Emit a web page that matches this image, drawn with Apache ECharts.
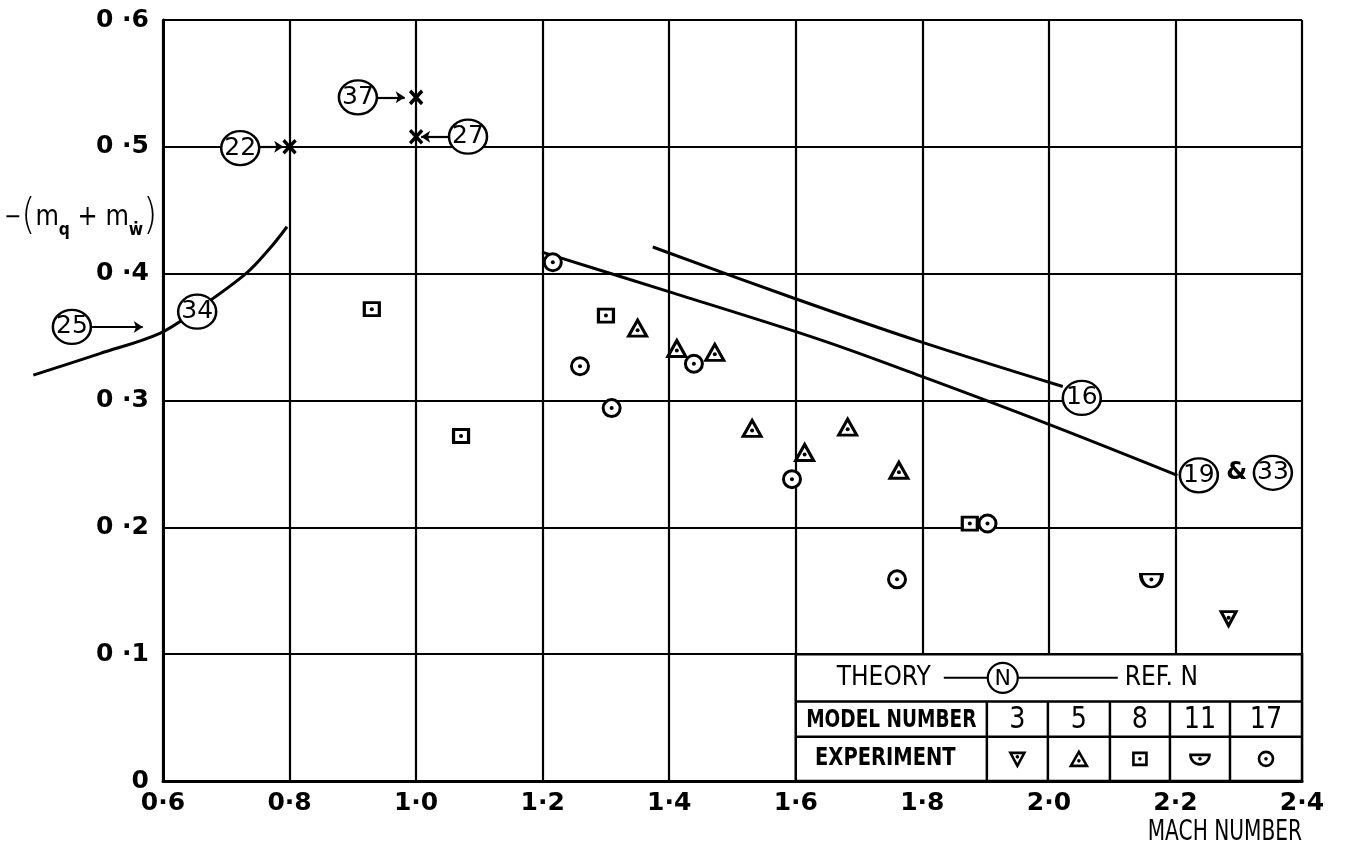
<!DOCTYPE html>
<html><head><meta charset="utf-8">
<script src="https://cdn.jsdelivr.net/npm/echarts@6/dist/echarts.min.js"></script>
<style>html,body{margin:0;padding:0;background:#fff}#c{width:1348px;height:856px}</style>
</head><body><div id="c"></div>
<script>
// ---- tick labels ----
const xTickLabels = ['0·6','0·8','1·0','1·2','1·4','1·6','1·8','2·0','2·2','2·4'];
const yTickLabels = ['0','0 ·1','0 ·2','0 ·3','0 ·4','0 ·5','0 ·6'];

// ---- theory curves (Mach, -(mq+mw')) ----
const theory25_34 = [[0.395,0.320],[0.500,0.337],[0.595,0.353],[0.652,0.371],[0.731,0.400],[0.769,0.420],[0.796,0.437]];
const theory19_33 = [[1.199,0.417],[1.398,0.386],[1.638,0.348],[1.799,0.319],[2.001,0.281],[2.203,0.241]];
const theory16    = [[1.374,0.421],[1.595,0.381],[1.799,0.346],[2.022,0.311]];
// theory points (crosses) refs 22, 37, 27
const theoryPoints = [[0.80,0.500],[1.00,0.539],[1.00,0.508]];

// ---- experiments ----
const model3  = [[2.284,0.128]];
const model5  = [[1.350,0.357],[1.412,0.341],[1.472,0.338],[1.531,0.278],[1.614,0.259],[1.682,0.279],[1.763,0.245]];
const model8  = [[0.930,0.372],[1.071,0.272],[1.300,0.367],[1.875,0.203]];
const model11 = [[2.162,0.158]];
const model17 = [[1.216,0.409],[1.259,0.327],[1.309,0.294],[1.439,0.329],[1.594,0.238],[1.760,0.159],[1.903,0.203]];

// ---- reference labels (circled numbers) ----
const refNames = ['22','37','27','25','34','16','19','33'];
const refPos   = [[0.722,0.499],[0.908,0.539],[1.082,0.508],[0.456,0.358],[0.654,0.370],[2.052,0.302],[2.237,0.241],[2.354,0.243]];
const ampPos   = [[2.297,0.243]];
// arrows from labels to theory points
const arrows = [
  [[0.750,0.500],[0.790,0.500]],
  [[0.936,0.539],[0.982,0.539]],
  [[1.053,0.508],[1.008,0.508]],
  [[0.488,0.358],[0.568,0.358]]
];
const modelNumbers = ['3','5','8','11','17'];

const FONT = 'DejaVu Sans';
const SYM3  = 'path://M0,0 L20,0 L10,18 Z';
const SYM5  = 'path://M10,0 L20,18 L0,18 Z';
const SYM8  = 'path://M0,0 L20,0 L20,18 L0,18 Z';
const SYM11 = 'path://M0,0 L20,0 C20,14 0,14 0,0 Z';

const GL = 163, GR = 46, GT = 20, GB = 75, CW = 1348;
const X_MIN = 0.6, X_MAX = 2.4;
// same scale extended to the left edge of the canvas (for the curve that leaves the frame)
const X_MIN_EXT = X_MIN - GL * (X_MAX - X_MIN) / (CW - GL - GR);

const chart = echarts.init(document.getElementById('c'), null, {renderer:'canvas'});

function outline(data, symbol, size){
  return {type:'scatter', data, symbol, symbolSize:size, clip:false, z:5,
    itemStyle:{color:'#fff', borderColor:'#000', borderWidth:3, opacity:1},
    emphasis:{disabled:true}, silent:true};
}
function dots(data, off){
  return {type:'scatter', data, symbol:'circle', symbolSize:4, clip:false, z:6,
    symbolOffset:[0, off||0], itemStyle:{color:'#000', opacity:1}, silent:true};
}
function theory(data, ext){
  const s = {type:'line', data, smooth:0.35, showSymbol:false, symbol:'none', clip:false, z:3,
    lineStyle:{color:'#000', width:3}, silent:true};
  if(ext){ s.xAxisIndex = 1; s.yAxisIndex = 1; }
  return s;
}
const axisCommon = {
  axisLine:{show:true, onZero:false, lineStyle:{color:'#000', width:3}},
  axisTick:{show:false},
  splitLine:{show:true, lineStyle:{color:'#000', width:2.2}}
};

const option = {
  backgroundColor:'#fff',
  animation:false,
  grid:[{left:GL, right:GR, top:GT, bottom:GB},{left:0, right:GR, top:GT, bottom:GB}],
  xAxis:[Object.assign({type:'value', min:X_MIN, max:X_MAX, interval:0.2, gridIndex:0,
    axisLabel:{color:'#000', fontFamily:FONT, fontSize:25, fontWeight:'bold', margin:10,
      formatter:(v)=>xTickLabels[Math.round((v-0.6)/0.2)]}}, axisCommon),
    {type:'value', gridIndex:1, min:X_MIN_EXT, max:X_MAX, show:false}],
  yAxis:[Object.assign({type:'value', min:0, max:0.6, interval:0.1, gridIndex:0,
    axisLabel:{color:'#000', fontFamily:FONT, fontSize:25, fontWeight:'bold', margin:14,
      formatter:(v)=>yTickLabels[Math.round(v/0.1)]}}, axisCommon),
    {type:'value', gridIndex:1, min:0, max:0.6, show:false}],
  series:[
    theory(theory25_34, true), theory(theory19_33), theory(theory16),
    {type:'lines', coordinateSystem:'cartesian2d', clip:false, z:4, silent:true,
      data:arrows.map(a=>({coords:a})),
      symbol:['none','arrow'], symbolSize:9,
      lineStyle:{color:'#000', width:2.2, opacity:1}},
    {type:'scatter', data:theoryPoints, symbol:'path://M0,0 L10,10 M10,0 L0,10', symbolSize:[12,13], z:5, clip:false,
      itemStyle:{color:'none', borderColor:'#000', borderWidth:3.5, opacity:1}, silent:true},
    outline(model3, SYM3, [15,14]), dots(model3, -1),
    outline(model5, SYM5, [18,16]), dots(model5, 2),
    outline(model8, SYM8, [15,13]), dots(model8),
    outline(model11, SYM11, [21,13]), dots(model11, -1),
    outline(model17, 'circle', 17), dots(model17),
    {type:'scatter', data:refPos.map((p,i)=>({name:refNames[i], value:p})), symbol:'circle', symbolSize:[38,34], z:8, clip:false,
      itemStyle:{color:'#fff', borderColor:'#000', borderWidth:2.4, opacity:1},
      label:{show:true, position:'inside', formatter:'{b}', color:'#000', fontFamily:FONT, fontSize:25},
      silent:true},
    {type:'scatter', data:ampPos.map(p=>({name:'&', value:p})), symbolSize:1, z:8, clip:false,
      itemStyle:{color:'rgba(0,0,0,0)', opacity:1},
      label:{show:true, position:'inside', formatter:'{b}', color:'#000', fontFamily:FONT, fontSize:24, fontWeight:'bold'},
      silent:true}
  ]
};
chart.setOption(option);

// ---- legend table and titles ----
const tl = chart.convertToPixel({gridIndex:0},[1.6,0.1]);
const br = chart.convertToPixel({gridIndex:0},[2.4,0]);
const L=tl[0], T=tl[1], R=br[0], B=br[1];
const W=R-L, H=B-T;
const r1 = T + H*47/126, r2 = T + H*82/126;
const colOff = [191,252,314,374,434,506].map(c=>L+W*c/506);
const LW = 2.5;
const els = [];
els.push({type:'rect', shape:{x:L, y:T, width:W, height:H}, style:{fill:'#fff', stroke:'#000', lineWidth:LW}, z:20});
els.push({type:'line', shape:{x1:L,y1:r1,x2:R,y2:r1}, style:{stroke:'#000', lineWidth:LW}, z:21});
els.push({type:'line', shape:{x1:L,y1:r2,x2:R,y2:r2}, style:{stroke:'#000', lineWidth:LW}, z:21});
colOff.slice(0,5).forEach(x=>els.push({type:'line', shape:{x1:x,y1:r1,x2:x,y2:B}, style:{stroke:'#000', lineWidth:LW}, z:21}));
const ry1 = (T+r1)/2, ry2=(r1+r2)/2, ry3=(r2+B)/2;
const txt = (t,x,y,size,align,weight,sx)=>({type:'text', x, y, z:22, scaleX:sx||1,
  style:{text:t, fill:'#000', font:(weight||'normal')+' '+size+'px "'+FONT+'"', textAlign:align||'center', textVerticalAlign:'middle'}});
els.push(txt('THEORY', L+88, ry1, 26, 'center', 'normal', 0.9));
els.push({type:'line', shape:{x1:L+148,y1:ry1,x2:L+192,y2:ry1}, style:{stroke:'#000', lineWidth:2}, z:21});
els.push({type:'circle', shape:{cx:L+207, cy:ry1, r:15}, style:{fill:'#fff', stroke:'#000', lineWidth:2.2}, z:21});
els.push(txt('N', L+207, ry1+1, 22));
els.push({type:'line', shape:{x1:L+222,y1:ry1,x2:L+322,y2:ry1}, style:{stroke:'#000', lineWidth:2}, z:21});
els.push(txt('REF. N', L+329, ry1, 26, 'left', 'normal', 0.9));
els.push(txt('MODEL NUMBER', (L+colOff[0])/2, ry2+1, 25, 'center', 'bold', 0.74));
els.push(txt('EXPERIMENT', (L+colOff[0])/2 - 6, ry3, 25, 'center', 'bold', 0.78));
for(let i=0;i<5;i++){
  const cx=(colOff[i]+colOff[i+1])/2, cy=ry3;
  els.push(txt(modelNumbers[i], cx, ry2+1, 30, 'center', 'normal', 0.85));
  const st = {fill:'#fff', stroke:'#000', lineWidth:2.6};
  let dy = 0;
  if(i===0){ els.push({type:'polygon', shape:{points:[[cx-7,cy-6],[cx+7,cy-6],[cx,cy+7]]}, style:st, z:22}); dy=-2; }
  if(i===1){ els.push({type:'polygon', shape:{points:[[cx,cy-7],[cx+8,cy+7],[cx-8,cy+7]]}, style:st, z:22}); dy=2; }
  if(i===2){ els.push({type:'rect', shape:{x:cx-6.5, y:cy-6, width:13, height:12}, style:st, z:22}); }
  if(i===3){ els.push({type:'sector', shape:{cx, cy:cy-4, r0:0, r:9.5, startAngle:0, endAngle:Math.PI, clockwise:true}, style:st, z:22}); }
  if(i===4){ els.push({type:'circle', shape:{cx, cy, r:7}, style:st, z:22}); }
  els.push({type:'circle', shape:{cx, cy:cy+dy, r:1.8}, style:{fill:'#000'}, z:23});
}
// axis titles
els.push({type:'text', x:R, y:833, z:22, scaleX:0.72, style:{text:'MACH NUMBER', fill:'#000', font:'28px "'+FONT+'"', textAlign:'right', textVerticalAlign:'middle'}});
els.push({type:'text', x:4, y:218, z:22, scaleX:0.86, style:{
  text:'{t|−}{p|(}{m|m}{s|q}{m| + m}{s|ẇ}{p|)}',
  textVerticalAlign:'middle', textAlign:'left',
  rich:{
    t:{fontSize:24, fontFamily:FONT, fill:'#000'},
    p:{fontSize:42, fontFamily:FONT, fill:'#000', fontWeight:'lighter'},
    m:{fontSize:28, fontFamily:FONT, fill:'#000'},
    s:{fontSize:18, fontFamily:FONT, fill:'#000', fontWeight:'bold', verticalAlign:'bottom'}
  }}});
chart.setOption({graphic:{elements:els}});
</script>
</body></html>
